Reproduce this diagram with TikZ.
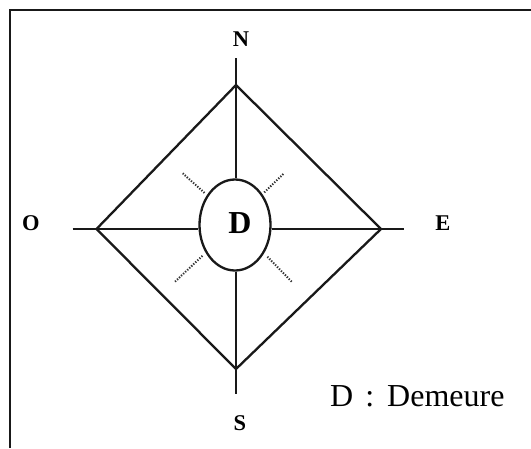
\documentclass[tikz,border=0pt]{standalone}
\usepackage{fontspec}
\setmainfont{Liberation Serif}
\usetikzlibrary{shapes.geometric}
\begin{document}
\begin{tikzpicture}[x=1pt,y=-1pt,
  axis/.style={line width=2.3pt,black!90},
  frameline/.style={line width=2.2pt,black!90},
  dots/.style={line width=2pt,black!80,dash pattern=on 1.3pt off 1.5pt},
  cardinal/.style={font=\fontsize{22.5}{22.5}\selectfont\bfseries,anchor=base,inner sep=0pt},
  legend/.style={font=\fontsize{32}{32}\selectfont,anchor=base west,inner sep=0pt}]
\useasboundingbox (0,0) rectangle (531,448);
\fill[white] (0,0) rectangle (531,448);
% frame (right and bottom sides lie outside the image)
\draw[frameline] (10,448) -- (10,10) -- (531,10);
% coordinates
\coordinate (n) at (236,85);
\coordinate (e) at (381,229);
\coordinate (s) at (236,369);
\coordinate (w) at (96.5,229);
\coordinate (nt) at (236,58);
\coordinate (sb) at (236,394);
\coordinate (wl) at (72.5,229);
\coordinate (er) at (403.5,229);
% house
\node[draw,line width=2.3pt,black!90,ellipse,minimum width=71pt,minimum height=91pt,inner sep=0pt] (d) at (235,225) {};
% axes
\draw[axis] (nt) -- (nt |- d.north);
\draw[axis] (sb |- d.south) -- (sb);
\draw[axis] (wl) -- (d.west |- wl);
\draw[axis] (d.east |- er) -- (er);
% diamond
\draw[axis,line join=miter] (n) -- (e) -- (s) -- (w) -- cycle;
% rays
\coordinate (r1a) at (182.7,173.3); \coordinate (r1b) at (205,193.3);
\coordinate (r2a) at (283.3,174);   \coordinate (r2b) at (263.3,193.3);
\coordinate (r3a) at (175,281.7);   \coordinate (r3b) at (203.3,255);
\coordinate (r4a) at (291.7,281.7); \coordinate (r4b) at (266.7,256);
\draw[dots] (r1a) -- (r1b);
\draw[dots] (r2a) -- (r2b);
\draw[dots] (r3a) -- (r3b);
\draw[dots] (r4a) -- (r4b);
% labels
\node[cardinal] (ln) at (241,46) {N};
\node[cardinal] (ls) at (240,430) {S};
\node[cardinal] (lo) at (31,230) {O};
\node[cardinal] (le) at (443,230) {E};
\node[anchor=base,inner sep=0pt,font=\fontsize{32}{32}\selectfont\bfseries] (ld) at (240,233.5) {D};
\node[legend] (leg) at (330,406) {D\hspace{12pt}:\hspace{13pt}Demeure};
\end{tikzpicture}
\end{document}
